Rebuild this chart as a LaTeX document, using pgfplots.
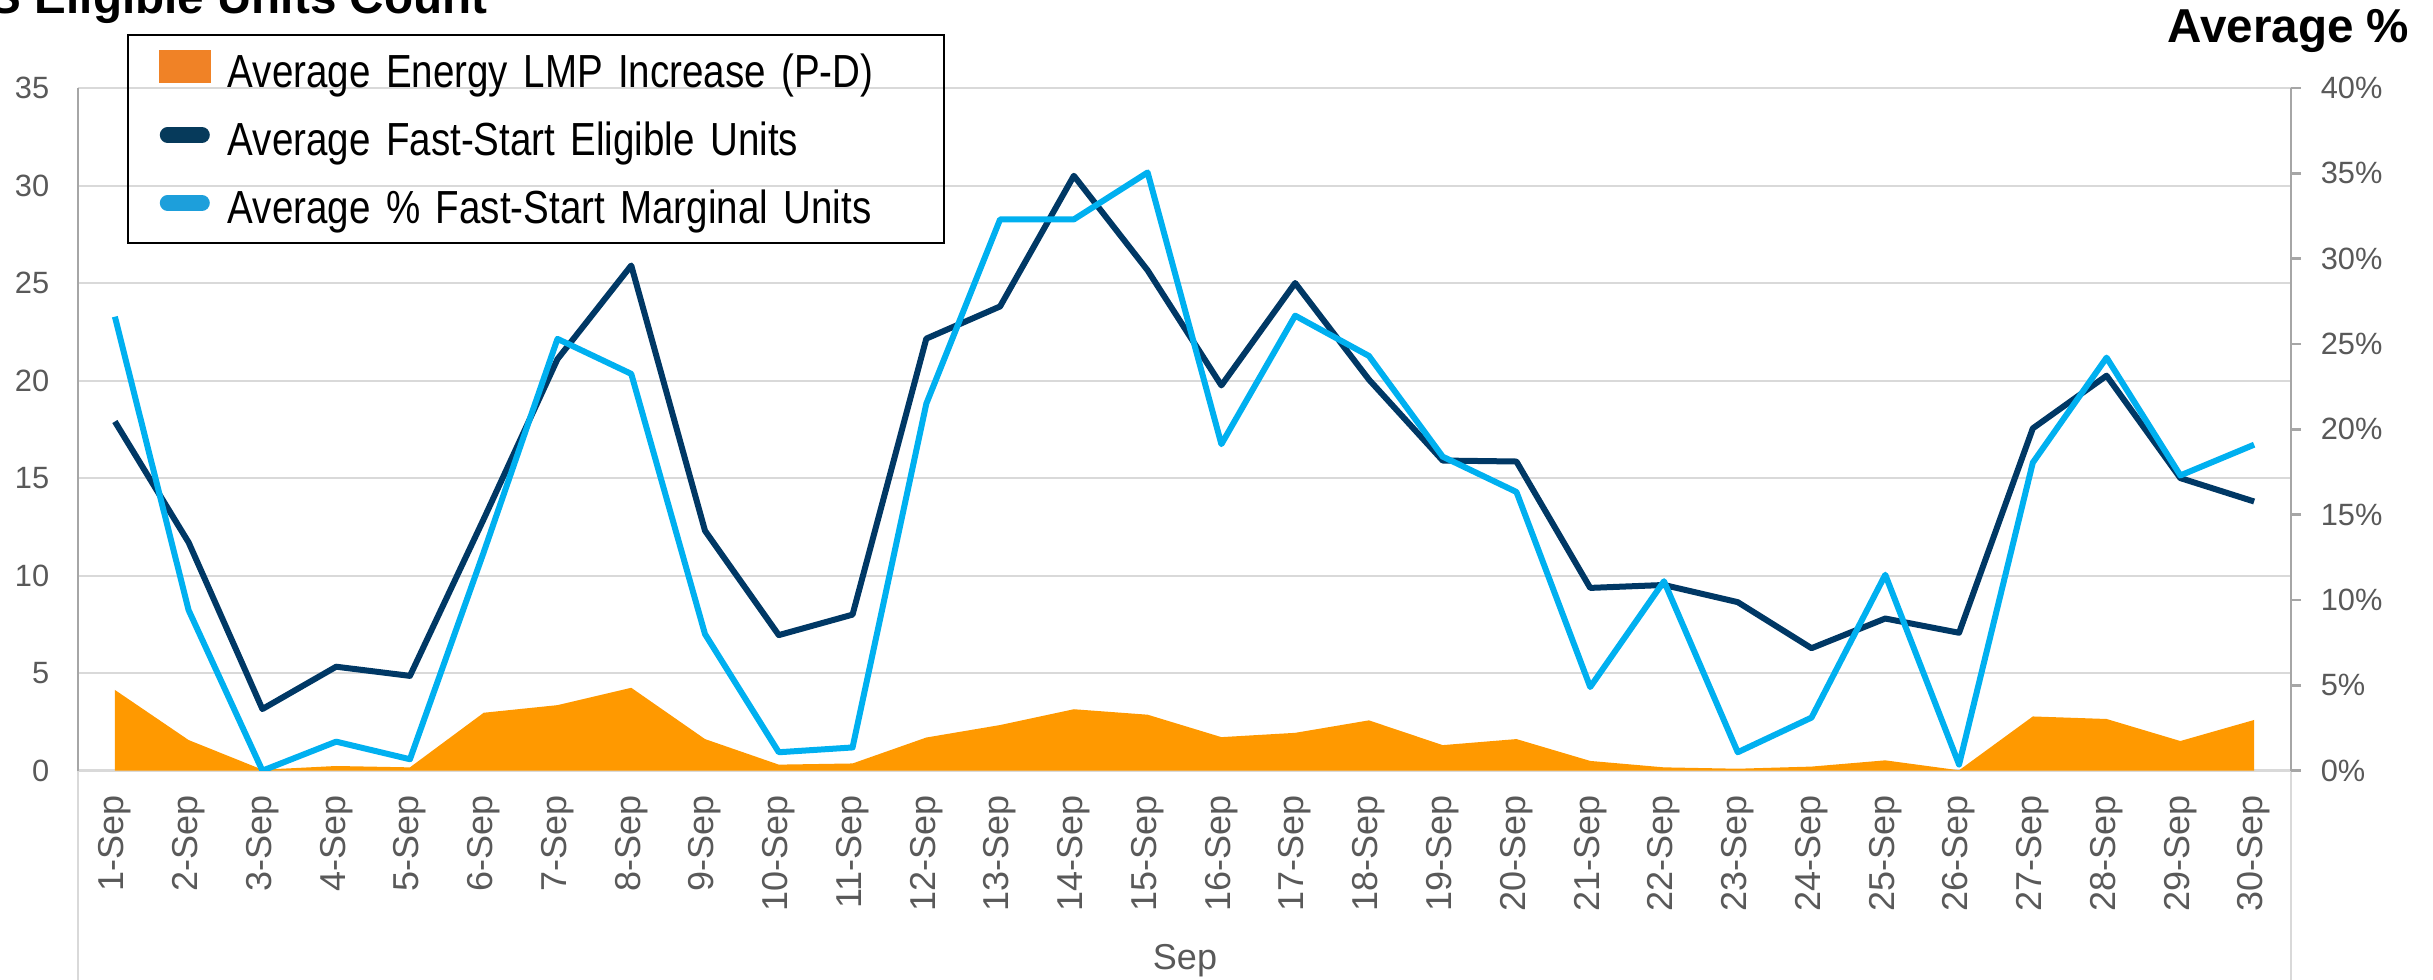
\documentclass[border=0pt]{standalone}
\usepackage{fontspec}
\setmainfont{Liberation Sans}
\newfontfamily\legfont[FakeStretch=0.83]{Liberation Sans}
\usepackage{pgfplots}
\pgfplotsset{compat=1.18}
\usepackage{pgfplotstable}

\definecolor{lmporange}{HTML}{FF9900}
\definecolor{lmplegend}{HTML}{F08226}
\definecolor{fsnavy}{HTML}{003865}
\definecolor{fsnavyleg}{HTML}{063A5B}
\definecolor{fsblue}{HTML}{00B0F0}
\definecolor{fsblueleg}{HTML}{1D9FDB}
\definecolor{axisgray}{HTML}{A6A6A6}
\definecolor{gridgray}{HTML}{D9D9D9}
\definecolor{labelgray}{HTML}{595959}

% day, avg LMP increase, avg FS eligible units, avg % FS marginal units
\pgfplotstableread{
day lmp  eligible marginal
1   4.14 17.90 26.60
2   1.57 11.70  9.40
3   0.05  3.16  0.00
4   0.24  5.33  1.70
5   0.17  4.86  0.67
6   2.97 12.90 12.80
7   3.36 21.10 25.30
8   4.25 25.90 23.25
9   1.62 12.30  8.00
10  0.31  6.95  1.08
11  0.37  8.00  1.36
12  1.70 22.15 21.50
13  2.34 23.80 32.30
14  3.15 30.50 32.30
15  2.87 25.65 35.05
16  1.72 19.75 19.13
17  1.94 25.00 26.66
18  2.58 20.05 24.30
19  1.31 15.90 18.40
20  1.62 15.85 16.33
21  0.50  9.37  4.90
22  0.17  9.52 11.10
23  0.10  8.64  1.08
24  0.21  6.28  3.11
25  0.53  7.80 11.48
26  0.02  7.07  0.36
27  2.78 17.55 18.05
28  2.65 20.25 24.20
29  1.52 15.00 17.30
30  2.60 13.80 19.10
}\fsdata

\begin{document}
\begin{tikzpicture}
\pgfplotsset{
  base/.style={
    at={(19.5pt,52.325pt)}, anchor=south west,
    scale only axis, width=553.25pt, height=170.675pt,
    xmin=0.5, xmax=30.5, ymin=0,
    /pgf/number format/assume math mode=true,
    yticklabel style={font=\fontsize{7.7}{9}\selectfont, text=labelgray, inner ysep=0pt},
  }
}
\begin{axis}[base, ymax=35,
  clip=false,
  axis x line*=bottom, axis y line*=left,
  x axis line style={draw=gridgray, line width=0.6pt, -},
  y axis line style={draw=axisgray, line width=0.6pt, -},
  xtick={1,...,30},
  xticklabels={1-Sep,2-Sep,3-Sep,4-Sep,5-Sep,6-Sep,7-Sep,8-Sep,9-Sep,10-Sep,
    11-Sep,12-Sep,13-Sep,14-Sep,15-Sep,16-Sep,17-Sep,18-Sep,19-Sep,20-Sep,
    21-Sep,22-Sep,23-Sep,24-Sep,25-Sep,26-Sep,27-Sep,28-Sep,29-Sep,30-Sep},
  xticklabel style={font=\fontsize{9}{10}\selectfont, text=labelgray,
    rotate=90, anchor=east, inner xsep=6pt, inner ysep=0pt},
  xtick style={draw=none},
  ytick={0,5,...,35},
  ytick style={draw=none},
  yticklabel style={inner xsep=7pt},
  ymajorgrids, grid style={draw=gridgray, line width=0.5pt},
]
\addplot[fill=lmporange, draw=none] table[x=day, y=lmp]{\fsdata} \closedcycle;
\addplot[fsnavy, line width=1.5pt, line join=round] table[x=day, y=eligible]{\fsdata};
\draw[gridgray, line width=0.6pt] (axis cs:0.5,0) -- ++(0pt,-52.4pt);
\draw[gridgray, line width=0.6pt] (axis cs:30.5,0) -- ++(0pt,-52.4pt);
\end{axis}

\begin{axis}[base, ymax=40,
  axis y line*=right, axis x line=none, xtick=\empty,
  y axis line style={draw=axisgray, line width=0.6pt, -},
  ytick={0,5,...,40},
  yticklabel={\pgfmathprintnumber{\tick}\%},
  tick align=outside, major tick length=2.5pt,
  ytick style={draw=axisgray, line width=0.6pt},
  yticklabel style={inner xsep=4.75pt},
  legend cell align=left,
  legend style={at={(0.02214,1.0785)}, anchor=north west,
    draw=black, line width=0.5pt, fill=none,
    font=\legfont\fontsize{11.6}{13}\selectfont,
    inner xsep=7.7pt, inner ysep=2pt, row sep=3.05pt,
    nodes={text height=11.05pt, text depth=2.9pt, inner sep=0pt, text width=171.3pt}},
]
\addlegendimage{legend image code/.code={
  \fill[lmplegend] (0pt,-2.8pt) rectangle (12.5pt,4.95pt);
  \path (16.3pt,0pt);}}
\addlegendentry{Average Energy LMP Increase (P-D)}
\addlegendimage{legend image code/.code={
  \draw[fsnavyleg, line width=3.9pt, line cap=round] (1.95pt,1.07pt) -- (10.55pt,1.07pt);
  \path (16.3pt,0pt);}}
\addlegendentry{Average Fast-Start Eligible Units}
\addplot[fsblue, line width=1.5pt, line join=round,
  legend image code/.code={
  \draw[fsblueleg, line width=3.9pt, line cap=round] (1.95pt,1.07pt) -- (10.55pt,1.07pt);
  \path (16.3pt,0pt);}] table[x=day, y=marginal]{\fsdata};
\addlegendentry{Average \% Fast-Start Marginal Units}
\end{axis}

\node[anchor=base east, inner sep=0pt, font=\bfseries\fontsize{11.9}{13}\selectfont]
  at (122pt,241.67pt) {Average FS Eligible Units Count};
\node[anchor=base east, inner sep=0pt, font=\bfseries\fontsize{11.9}{13}\selectfont]
  at (602.5pt,234.25pt) {Average \%};
\node[anchor=base, inner sep=0pt, font=\fontsize{9}{10}\selectfont, text=labelgray]
  at (296.25pt,2.5pt) {Sep};

\pgfresetboundingbox
\useasboundingbox (0pt,0pt) rectangle (608.25pt,245pt);
\end{tikzpicture}
\end{document}
